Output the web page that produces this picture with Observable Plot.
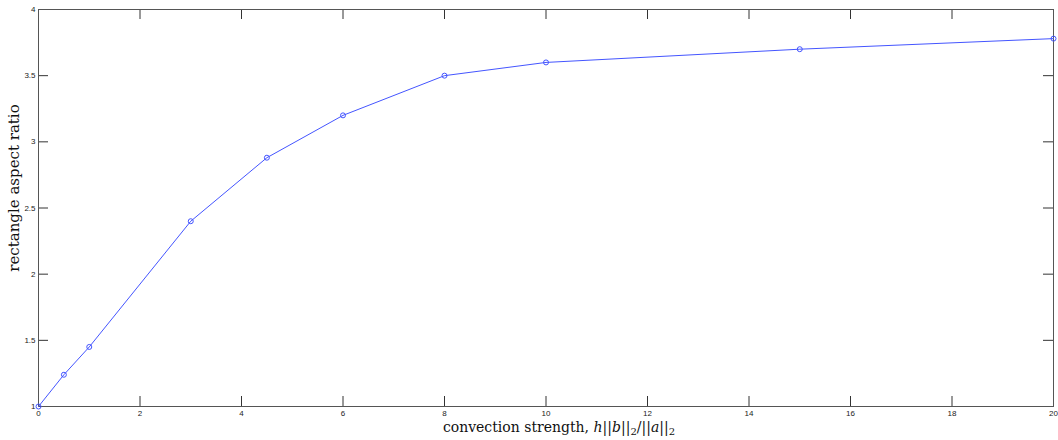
<!DOCTYPE html>
<html>
<head>
<meta charset="utf-8">
<script src="https://cdn.jsdelivr.net/npm/d3@7"></script>
<script src="https://cdn.jsdelivr.net/npm/@observablehq/plot@0.6"></script>
<style>
  html, body { margin: 0; padding: 0; background: #fff; }
  #wrap { position: relative; width: 1058px; height: 440px; }
  .lbl { position: absolute; font-family: "DejaVu Serif", "Liberation Serif", serif; color: #111; white-space: nowrap; line-height: 1; }
  #xlab { left: 559px; top: 427px; transform: translate(-50%, -50%); font-size: 14px; }
  #ylab { left: 14px; top: 188px; transform: translate(-50%, -50%) rotate(-90deg); font-size: 15px; }
  .sub { font-size: 10px; position: relative; top: 3px; }
</style>
</head>
<body>
<div id="wrap">
  <div id="chart"></div>
  <div class="lbl" id="xlab">convection strength, <i>h</i>||<i>b</i>||<span class="sub">2</span>/||<i>a</i>||<span class="sub">2</span></div>
  <div class="lbl" id="ylab">rectangle aspect ratio</div>
</div>
<script>
const convection = [0, 0.5, 1, 3, 4.5, 6, 8, 10, 15, 20];
const aspectRatio = [1, 1.24, 1.45, 2.4, 2.88, 3.2, 3.5, 3.6, 3.7, 3.78];
const xTicks = [0, 2, 4, 6, 8, 10, 12, 14, 16, 18, 20];
const yTicks = [1, 1.5, 2, 2.5, 3, 3.5, 4];

const data = convection.map((x, i) => ({x, y: aspectRatio[i]}));

const W = 1058, H = 440;
const mL = 38, mR = 5, mT = 9, mB = 34;
const pw = W - mL - mR, ph = H - mT - mB;
const tl = 10;

const chart = Plot.plot({
  width: W, height: H,
  marginLeft: mL, marginRight: mR, marginTop: mT, marginBottom: mB,
  x: {domain: [0, 20], ticks: xTicks},
  y: {domain: [1, 4], ticks: yTicks},
  style: {fontFamily: "Liberation Sans, Arial, sans-serif", fontSize: "8px", color: "#222", background: "#fff"},
  marks: [
    Plot.gridX(xTicks, {stroke: "#333", strokeOpacity: 1, insetTop: ph - tl}),
    Plot.gridX(xTicks, {stroke: "#333", strokeOpacity: 1, insetBottom: ph - tl}),
    Plot.gridY(yTicks, {stroke: "#333", strokeOpacity: 1, insetRight: pw - tl}),
    Plot.gridY(yTicks, {stroke: "#333", strokeOpacity: 1, insetLeft: pw - tl}),
    Plot.frame({stroke: "#555", strokeWidth: 1}),
    Plot.axisX(xTicks, {tickSize: 0, tickPadding: 4, label: null, fontSize: 8, tickFormat: d => String(d)}),
    Plot.axisY(yTicks, {tickSize: 0, tickPadding: 3, label: null, fontSize: 8, tickFormat: d => String(d)}),
    Plot.line(data, {x: "x", y: "y", stroke: "#4455ff", strokeWidth: 1}),
    Plot.dot(data, {x: "x", y: "y", r: 2.5, stroke: "#4455ff", fill: "none", strokeWidth: 1})
  ]
});
document.getElementById("chart").appendChild(chart);
</script>
</body>
</html>
